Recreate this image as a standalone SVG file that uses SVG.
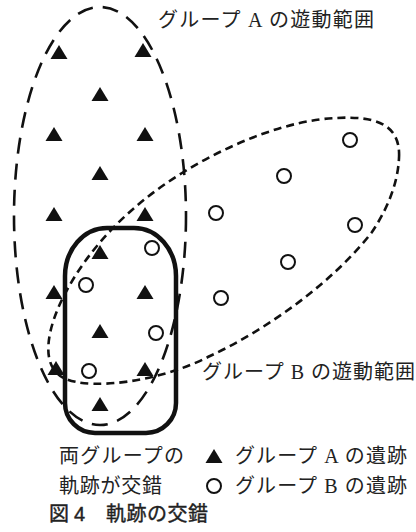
<svg xmlns="http://www.w3.org/2000/svg" xmlns:xlink="http://www.w3.org/1999/xlink" width="416" height="532" viewBox="0 0 416 532">
<style>
.rangeA{fill:none;stroke:#111;stroke-width:2.6;stroke-dasharray:16 10}
.rangeB{fill:none;stroke:#111;stroke-width:2.6;stroke-dasharray:8 5}
.overlap{fill:none;stroke:#111;stroke-width:4.5}
.siteA{fill:#111}
.siteB{fill:none;stroke:#111;stroke-width:2}
.lbl{font-family:"Liberation Serif","Noto Sans CJK JP",serif;font-size:20px;fill:#222}
.cap{font-family:"Liberation Sans","Noto Sans CJK JP",sans-serif;font-size:20px;font-weight:normal;fill:#222;stroke:#222;stroke-width:0.4}
</style>
<defs>
<path id="tri" d="M0,-7 L8.5,7 L-8.5,7 Z"/>
</defs>
<rect width="416" height="532" fill="#fff"/>
<g id="range-a">
<ellipse class="rangeA" cx="100" cy="216" rx="86" ry="209"/>
</g>
<g id="range-b">
<path class="rangeB" d="M399,158 C401,122 372,116 336,118 C290,120 232,142 182,173 C132,204 92,244 67,290 C47,326 38,368 66,379 C92,390 160,382 210,356 C270,328 335,280 372,232 C390,205 398,180 399,158 Z"/>
</g>
<g id="overlap">
<path class="overlap" d="M65,276 A42,48 0 0 1 107,228 L134,228 A42,48 0 0 1 176,276 L176,403 A30,30 0 0 1 146,433 L95,433 A30,30 0 0 1 65,403 Z"/>
</g>
<g id="sites-a" class="siteA">
<use xlink:href="#tri" x="59" y="52"/>
<use xlink:href="#tri" x="143" y="50"/>
<use xlink:href="#tri" x="100" y="94"/>
<use xlink:href="#tri" x="54" y="134"/>
<use xlink:href="#tri" x="145" y="134"/>
<use xlink:href="#tri" x="100" y="173"/>
<use xlink:href="#tri" x="54" y="214"/>
<use xlink:href="#tri" x="145" y="214"/>
<use xlink:href="#tri" x="100" y="252"/>
<use xlink:href="#tri" x="54" y="292"/>
<use xlink:href="#tri" x="145" y="292"/>
<use xlink:href="#tri" x="100" y="331"/>
<use xlink:href="#tri" x="56" y="368"/>
<use xlink:href="#tri" x="145" y="369"/>
<use xlink:href="#tri" x="100" y="404"/>
</g>
<g id="sites-b" class="siteB">
<circle cx="350" cy="140" r="7"/>
<circle cx="284" cy="176" r="7"/>
<circle cx="216" cy="213" r="7"/>
<circle cx="355" cy="225" r="7"/>
<circle cx="152" cy="248" r="7"/>
<circle cx="288" cy="262" r="7"/>
<circle cx="86" cy="285" r="7"/>
<circle cx="221" cy="298" r="7"/>
<circle cx="156" cy="333" r="7"/>
<circle cx="89" cy="371" r="7"/>
</g>
<g id="label-a">
<text class="lbl" x="158" y="27" textLength="216" lengthAdjust="spacing">グループ A の遊動範囲</text>
</g>
<g id="label-b">
<text class="lbl" x="202" y="379" textLength="213" lengthAdjust="spacing">グループ B の遊動範囲</text>
</g>
<g id="legend">
<text class="lbl" x="59" y="463" textLength="125" lengthAdjust="spacing">両グループの</text>
<text class="lbl" x="59" y="493" textLength="103" lengthAdjust="spacing">軌跡が交錯</text>
<use class="siteA" xlink:href="#tri" x="214" y="456"/>
<text class="lbl" x="235" y="463" textLength="172" lengthAdjust="spacing">グループ A の遺跡</text>
<circle class="siteB" cx="214" cy="486" r="7"/>
<text class="lbl" x="235" y="493" textLength="172" lengthAdjust="spacing">グループ B の遺跡</text>
</g>
<g id="caption">
<text class="cap" x="49" y="521">図</text>
<text class="cap" x="74" y="521">4</text>
<text class="cap" x="106" y="521" textLength="102" lengthAdjust="spacing">軌跡の交錯</text>
</g>
</svg>
